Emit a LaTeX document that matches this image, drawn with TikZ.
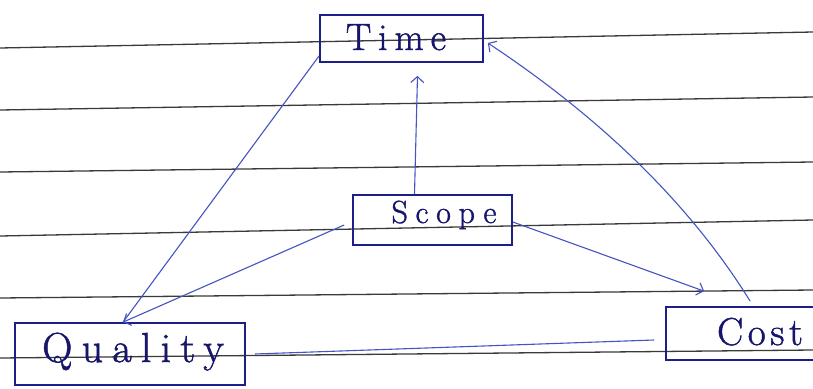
\documentclass[tikz,border=0pt]{standalone}
\usepackage{fontspec}
\usetikzlibrary{arrows.meta,calc}
\newfontfamily\handA{Latin Modern Roman}[LetterSpace=18,FakeBold=1.2]
\newfontfamily\handB{Latin Modern Roman}[LetterSpace=24,FakeBold=1.2]
\newfontfamily\handQ{Latin Modern Roman}[LetterSpace=22,FakeBold=1.2]
\newfontfamily\handC{Latin Modern Roman}[LetterSpace=12,FakeBold=1.2]
\definecolor{ink}{HTML}{1C1F8A}
\definecolor{txt}{HTML}{15156A}
\definecolor{pen}{HTML}{4454C0}
\definecolor{rulec}{HTML}{3A3A3A}
\begin{document}
\begin{tikzpicture}[x=1pt,y=-1pt,
  box/.style={draw=ink, line width=1.7pt, inner sep=0pt},
  lbl/.style={text=txt, anchor=base, inner sep=0pt},
  conn/.style={draw=pen, line width=1.1pt},
  head/.style={-{Straight Barb[length=6pt,width=13pt,line width=1.1pt]}},
  paper/.style={draw=rulec, line width=1.3pt}]
\useasboundingbox (0,0) rectangle (813,388);
\fill[white] (0,0) rectangle (813,388);
% ruled lines of the paper
\draw[paper] (0,48) -- (813,32);
\draw[paper] (0,110) -- (813,97);
\draw[paper] (0,172) -- (813,162);
\draw[paper] (0,236) -- (813,220);
\draw[paper] (0,298) -- (813,290);
\draw[paper] (0,358) -- (813,350);
% boxes
\node[box, minimum width=163pt, minimum height=47pt] (time) at (401.5,38.5) {};
\node[box, minimum width=159pt, minimum height=50pt] (scope) at (432.5,220) {};
\node[box, minimum width=230pt, minimum height=62pt] (quality) at (130,354) {};
\node[box, minimum width=174pt, minimum height=53pt] (cost) at (753,333.5) {};
% labels
\node[lbl, font={\handA\fontsize{38}{42}\selectfont}] (timet) at (396,50) {Time};
\node[lbl, font={\handB\fontsize{32}{36}\selectfont}] (scopet) at (444,223) {Scope};
\node[lbl, font={\handQ\fontsize{42}{46}\selectfont}] (qualityt) at (133,362) {Quality};
\node[lbl, font={\handC\fontsize{39}{43}\selectfont}] (costt) at (760,345) {Cost};
% helper coordinate at the arrow tip above Quality
\coordinate (qtip) at ([xshift=-7pt]quality.north);
% connectors
\draw[conn, head] ([xshift=-18pt]scope.north) -- ([xshift=16pt,yshift=-13pt]time.south);
\draw[conn] ([yshift=7pt]time.south west) -- (qtip);
\draw[conn, head] ([xshift=-8pt,yshift=-5pt]scope.west) -- (qtip);
\draw[conn, head] ([xshift=85pt,yshift=5pt]cost.north west) .. controls (691,205.7) and (603,119.3) .. ([xshift=4pt,yshift=-4.5pt]time.east);
\draw[conn, head] ([yshift=-2pt]scope.east) -- ([xshift=39pt,yshift=15pt]cost.north west);
\draw[conn] ([xshift=9pt]quality.east) -- ([xshift=-11pt,yshift=-6.5pt]cost.west);
\end{tikzpicture}
\end{document}
